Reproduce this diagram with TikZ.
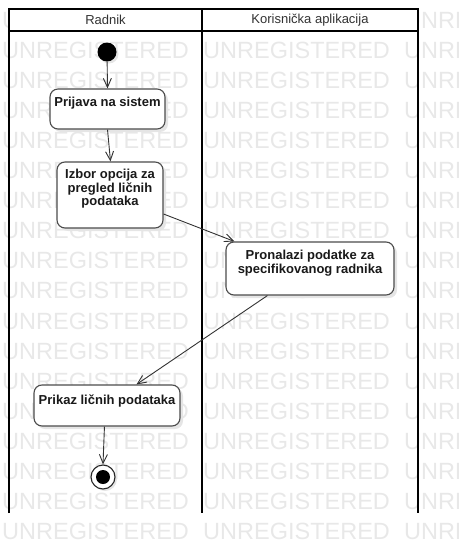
\documentclass[tikz,border=0pt]{standalone}
\usepackage{fontspec}
\setmainfont{Liberation Sans}
\usetikzlibrary{arrows.meta,shadows,calc}
\begin{document}
\begin{tikzpicture}[x=1pt,y=-1pt,
  wm/.style={anchor=west,inner sep=0pt,text=black!9,font=\fontsize{23.5}{24}\selectfont},
  frame/.style={line width=2pt,draw=black},
  head/.style={inner sep=0pt,text=black!80,font=\fontsize{13}{15}\selectfont},
  act/.style={draw=black!70,line width=1.1pt,rounded corners=8pt,fill=white,inner sep=0pt,
    drop shadow={shadow xshift=3pt,shadow yshift=-3pt,fill=black!10,opacity=1}},
  acttext/.style={anchor=north,inner sep=0pt,align=center,text=black!90,font=\bfseries\fontsize{13}{13.5}\selectfont},
  flow/.style={draw=black!80,line width=0.9pt,-{Straight Barb[length=9pt,width=8pt]}},
  startnode/.style={circle,fill=black,minimum size=19pt,inner sep=0pt,
    drop shadow={shadow xshift=2pt,shadow yshift=-2pt,fill=black!10,opacity=1}},
  endnode/.style={circle,draw=black!85,line width=1.1pt,fill=white,minimum size=24pt,inner sep=0pt,
    drop shadow={shadow xshift=2pt,shadow yshift=-2pt,fill=black!10,opacity=1}}]
\useasboundingbox (0,0) rectangle (458,554);
\clip (0,0) rectangle (458,554);
% watermark
\foreach \k in {0,...,17} {
  \foreach \xx in {2,203,404} {
    \node[wm] at (\xx,{20+30.1*\k}) {UNREGISTERED};
  }
}
% swimlanes
\fill[white] (9,9) rectangle (418,31);
\draw[frame] (9,513) -- (9,9) -- (418,9) -- (418,513);
\draw[frame] (202,9) -- (202,513);
\draw[frame] (9,31) -- (418,31);
\node[head] (h1) at (105.5,20) {Radnik};
\node[head] (h2) at (310,20) {Korisnička aplikacija};
% nodes
\node[startnode] (init) at (107,52) {};
\node[act,minimum width=115pt,minimum height=40pt] (b1) at (107.5,109) {};
\node[acttext] (t1) at (107.5,97.1) {Prijava na sistem};
\node[act,minimum width=106pt,minimum height=66pt] (b2) at (110,195) {};
\node[acttext] (t2) at (110,169.1) {Izbor opcija za\\pregled ličnih\\podataka};
\node[act,minimum width=168pt,minimum height=53pt] (b3) at (310,268.5) {};
\node[acttext] (t3) at (310,250.1) {Pronalazi podatke za\\specifikovanog radnika};
\node[act,minimum width=146pt,minimum height=41pt] (b4) at (107,405.5) {};
\node[acttext] (t4) at (107,394.1) {Prikaz ličnih podataka};
\node[endnode] (fin) at (103,477) {};
\fill[black] (fin.center) circle (7pt);
% flows
\draw[flow] (init) -- (b1.north);
\draw[flow] (b1.south) -- ([xshift=0.5pt]b2.north);
\draw[flow] ([yshift=-19pt]b2.east) -- ([xshift=9pt]b3.north west);
\draw[flow] ([xshift=42pt]b3.south west) -- ([xshift=103pt]b4.north west);
\draw[flow] ([xshift=71pt]b4.south west) -- (fin.north);
\end{tikzpicture}
\end{document}
